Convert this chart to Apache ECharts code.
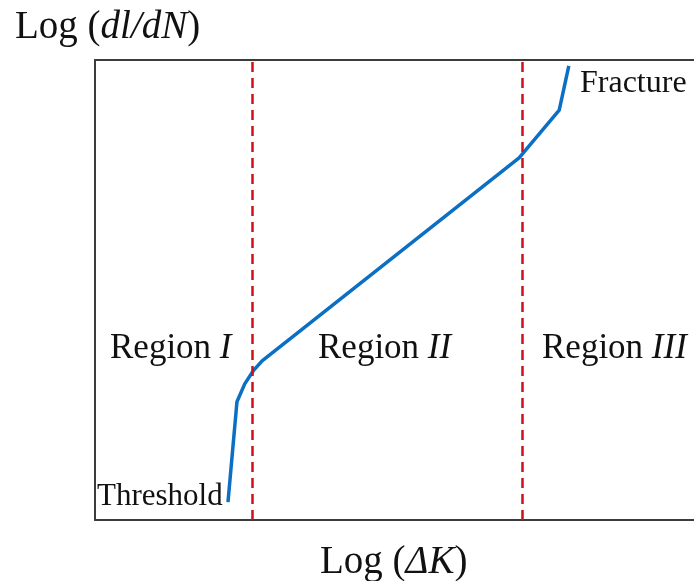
<!DOCTYPE html>
<html>
<head>
<meta charset="utf-8">
<script src="https://cdn.jsdelivr.net/npm/echarts@6/dist/echarts.min.js"></script>
<style>
html,body{margin:0;padding:0;background:#fff;}
#chart{width:694px;height:581px;}
</style>
</head>
<body>
<div id="chart"></div>
<script>
// Schematic crack growth curve (log units, arbitrary scale 0..10)
var curveX = [2.22, 2.37, 2.50, 2.64, 2.79, 7.08, 7.75, 7.91];
var curveY = [0.39, 2.57, 2.96, 3.24, 3.46, 7.87, 8.91, 9.87];
var regionBounds = [2.62, 7.14];
var regionLabels = ['I', 'II', 'III'];
var endLabels = ['Threshold', 'Fracture'];

var serif = '"Liberation Serif", "DejaVu Serif", serif';
var ink = '#111111';
var frame = { show: true, lineStyle: { color: '#3c3c3c', width: 2 } };

function richStyle(size) {
  return {
    a: { fontFamily: serif, fontSize: size, fill: ink, fontStyle: 'normal' },
    i: { fontFamily: serif, fontSize: size, fill: ink, fontStyle: 'italic' }
  };
}
function txt(x, y, text, size) {
  return {
    type: 'text', left: x, top: y, z: 100,
    style: { text: text, rich: richStyle(size), font: size + 'px ' + serif, fill: ink }
  };
}
function hiddenAxis(extra) {
  var ax = { type: 'value', min: 0, max: 10, axisTick: { show: false }, axisLabel: { show: false }, splitLine: { show: false } };
  for (var k in extra) ax[k] = extra[k];
  return ax;
}

var chart = echarts.init(document.getElementById('chart'), null, { renderer: 'canvas' });
chart.setOption({
  animation: false,
  backgroundColor: '#ffffff',
  grid: { left: 95, top: 60, right: 0, bottom: 61, show: false },
  xAxis: [
    hiddenAxis({ position: 'bottom', axisLine: frame }),
    hiddenAxis({ position: 'top', axisLine: frame })
  ],
  yAxis: hiddenAxis({ position: 'left', axisLine: frame }),
  series: [{
    type: 'line',
    data: curveX.map(function (x, i) { return [x, curveY[i]]; }),
    showSymbol: false,
    smooth: false,
    lineStyle: { color: '#0b6fc4', width: 3.5 },
    markLine: {
      silent: true,
      symbol: 'none',
      label: { show: false },
      lineStyle: { color: '#cc1118', width: 2.5, type: [10, 6] },
      data: regionBounds.map(function (v) { return { xAxis: v }; })
    }
  }],
  graphic: [
    txt(15, 8, '{a|Log (}{i|dl/dN}{a|)}', 39),
    txt(320, 543, '{a|Log (}{i|ΔK}{a|)}', 39),
    txt(110, 331, '{a|Region }{i|' + regionLabels[0] + '}', 35),
    txt(318, 331, '{a|Region }{i|' + regionLabels[1] + '}', 35),
    txt(542, 331, '{a|Region }{i|' + regionLabels[2] + '}', 35),
    txt(97, 481, '{a|' + endLabels[0] + '}', 31),
    txt(580, 68, '{a|' + endLabels[1] + '}', 32)
  ]
});
</script>
</body>
</html>
